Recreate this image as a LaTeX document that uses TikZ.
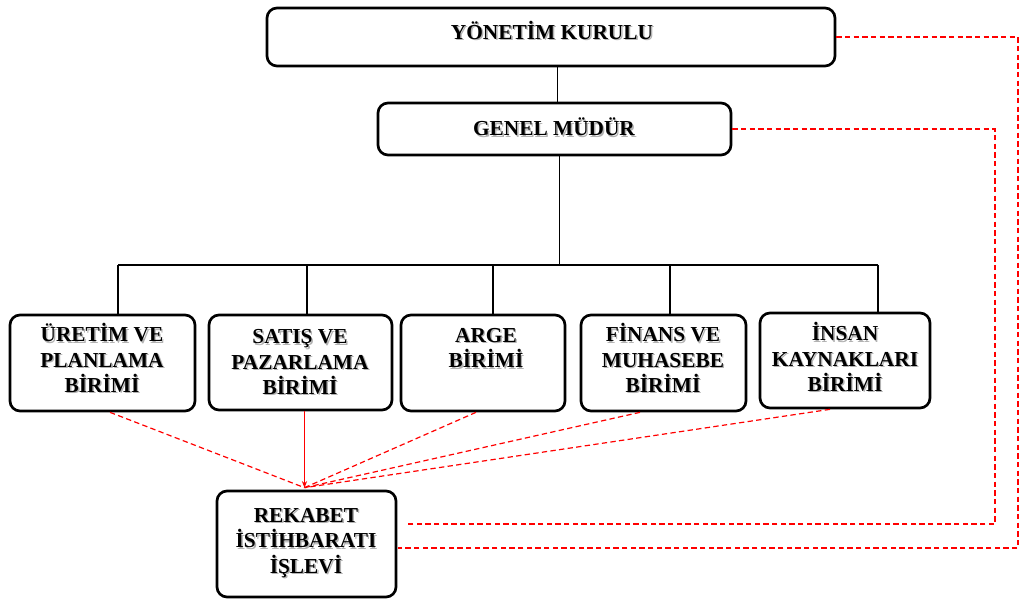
\documentclass[tikz,border=0pt]{standalone}
\usepackage{fontspec}
\setmainfont{Liberation Serif}
\usetikzlibrary{calc,fit,arrows.meta}

\tikzset{
  unit/.style={draw=black, line width=2pt, rounded corners=7.5pt, fill=white, inner sep=0pt},
  tree/.style={draw=black, line width=0.8pt},
  link/.style={draw=red, line width=0.9pt, dash pattern=on 4pt off 2.5pt},
  feed/.style={draw=red, line width=0.9pt, -{Stealth[length=5pt,width=4pt]}},
  txt/.style={font=\bfseries\fontsize{16}{19}\selectfont, align=center, inner sep=0pt},
  ghost/.style={txt, text=black!30},
}

% unit box: name, x1, y1, x2, y2 (pixel grid, y downward)
\newcommand\unitbox[5]{\node[unit, fit={(#2,#3) (#4,#5)}] (#1) {};}
% bold label with a soft grey shadow: name, position, text
\newcommand\unitlabel[3]{%
  \node[ghost] (#1-sh) at ($(#2)+(1.4,1.4)$) {#3};
  \node[txt] (#1) at (#2) {#3};}

\begin{document}
\begin{tikzpicture}[x=0.75pt, y=-0.75pt]
\useasboundingbox (0,0) rectangle (1022,599);

% boxes
\unitbox{yk}{267}{8}{835}{66}
\unitbox{gm}{378}{103}{731}{155}
\unitbox{ure}{10}{315}{195}{411}
\unitbox{sat}{209}{315}{392}{410}
\unitbox{arg}{401}{315}{565}{411}
\unitbox{fin}{581}{315}{746}{411}
\unitbox{ins}{760}{313}{930}{408}
\unitbox{rek}{217}{491}{396}{597}

% labels
\unitlabel{yk-t}{552,30}{YÖNETİM KURULU}
\unitlabel{gm-t}{554,127}{GENEL MÜDÜR}
\unitlabel{ure-t}{102,358}{ÜRETİM VE\\PLANLAMA\\BİRİMİ}
\unitlabel{sat-t}{300,362}{SATIŞ VE\\PAZARLAMA\\BİRİMİ}
\unitlabel{arg-t}{486,348}{ARGE\\BİRİMİ}
\unitlabel{fin-t}{663,358}{FİNANS VE\\MUHASEBE\\BİRİMİ}
\unitlabel{ins-t}{845,357}{İNSAN\\KAYNAKLARI\\BİRİMİ}
\unitlabel{rek-t}{306,543}{REKABET\\İSTİHBARATI\\İŞLEVİ}

% hierarchy
\coordinate (d1) at (118,265);
\coordinate (d2) at (307,265);
\coordinate (d3) at (493,265);
\coordinate (d4) at (670,265);
\coordinate (d5) at (878,265);
\draw[tree] ($(gm.north)+(3,0)$) -- ($(gm.north |- yk.south)+(3,0)$);
\draw[tree] ($(gm.south)+(5,0)$) -- ($(gm.south |- d1)+(5,0)$);
\draw[tree] (d1) -- (d5);
\draw[tree] (d1) -- (d1 |- ure.north);
\draw[tree] (d2) -- (d2 |- sat.north);
\draw[tree] (d3) -- (d3 |- arg.north);
\draw[tree] (d4) -- (d4 |- fin.north);
\draw[tree] (d5) -- (d5 |- ins.north);

% information flow into the intelligence unit
\coordinate (hub) at ($(rek.north)+(-2,-2)$);
\draw[link] ($(ure.south)+(7.5,0)$) -- (hub);
\draw[feed] (sat.south -| hub) -- (hub);
\draw[link] ($(arg.south)+(-7,0)$) -- (hub);
\draw[link] ($(fin.south)+(-23.5,0)$) -- (hub);
\draw[link] ($(ins.south)+(-15,0)$) -- (hub);

% reporting lines to management
\coordinate (in1) at (408,524);
\coordinate (in2) at (398,548);
\draw[link] (gm.east) -| ($(in1)+(587,0)$) -- (in1);
\draw[link] (yk.east) -| ($(in2)+(620,0)$) -- (in2);
\end{tikzpicture}
\end{document}
